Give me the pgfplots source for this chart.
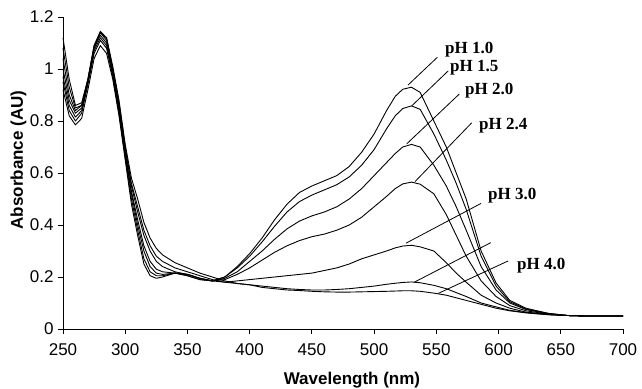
\documentclass[border=0pt]{standalone}
\usepackage{pgfplots}
\usepackage{pgfplotstable}
\pgfplotsset{compat=1.18}
\usepackage{fontspec}
\setmainfont{Liberation Sans}
\newfontfamily\timesfont{Liberation Serif}

\pgfplotstableread{
x    a      b      c      d      e      f      g
250  0.92   0.95   0.97   1.00   1.04   1.08   1.12
255  0.82   0.84   0.86   0.88   0.90   0.93   0.96
260  0.785  0.80   0.815  0.83   0.84   0.85   0.86
265  0.81   0.83   0.84   0.85   0.86   0.86   0.87
270  0.92   0.94   0.95   0.95   0.96   0.96   0.96
275  1.04   1.06   1.07   1.08   1.08   1.09   1.09
280  1.09   1.11   1.12   1.13   1.14   1.145  1.14
285  1.06   1.08   1.09   1.10   1.11   1.12   1.12
290  0.96   0.97   0.98   0.99   1.00   1.00   1.01
295  0.82   0.83   0.84   0.85   0.86   0.87   0.88
300  0.65   0.66   0.67   0.68   0.69   0.70   0.71
305  0.48   0.50   0.52   0.53   0.55   0.56   0.58
310  0.36   0.38   0.40   0.42   0.45   0.47   0.50
315  0.25   0.27   0.30   0.32   0.36   0.38   0.41
320  0.205  0.22   0.24   0.26   0.30   0.32   0.35
325  0.195  0.205  0.215  0.23   0.26   0.28   0.31
330  0.20   0.205  0.21   0.22   0.24   0.26   0.285
340  0.215  0.215  0.215  0.215  0.22   0.235  0.255
350  0.205  0.205  0.21   0.21   0.21   0.22   0.235
360  0.19   0.19   0.195  0.195  0.195  0.205  0.215
370  0.185  0.185  0.185  0.185  0.185  0.19   0.20
380  0.20   0.20   0.195  0.19   0.18   0.18   0.185
390  0.24   0.235  0.22   0.21   0.185  0.175  0.175
400  0.29   0.28   0.26   0.235  0.19   0.17   0.17
410  0.35   0.335  0.30   0.265  0.195  0.165  0.16
420  0.42   0.395  0.345  0.295  0.20   0.16   0.155
430  0.48   0.45   0.385  0.32   0.205  0.155  0.15
440  0.525  0.49   0.415  0.34   0.21   0.152  0.148
450  0.55   0.515  0.435  0.355  0.215  0.15   0.145
460  0.57   0.535  0.45   0.365  0.225  0.15   0.143
470  0.59   0.555  0.47   0.38   0.235  0.152  0.142
480  0.625  0.585  0.50   0.40   0.25   0.155  0.142
490  0.68   0.63   0.54   0.43   0.27   0.16   0.143
500  0.75   0.69   0.59   0.47   0.285  0.165  0.144
510  0.84   0.77   0.64   0.51   0.30   0.172  0.145
517  0.895  0.82   0.675  0.54   0.312  0.176  0.146
523  0.922  0.848  0.70   0.558  0.319  0.179  0.147
530  0.93   0.858  0.71   0.565  0.322  0.181  0.147
537  0.91   0.845  0.70   0.557  0.316  0.178  0.145
548  0.80   0.75   0.63   0.52   0.30   0.168  0.138
558  0.70   0.65   0.55   0.44   0.255  0.155  0.13
566  0.60   0.56   0.47   0.36   0.215  0.14   0.12
574  0.50   0.46   0.38   0.28   0.18   0.125  0.11
586  0.30   0.28   0.24   0.185  0.13   0.10   0.095
598  0.177  0.165  0.15   0.125  0.10   0.085  0.08
609  0.11   0.105  0.10   0.09   0.08   0.072  0.07
622  0.08   0.077  0.075  0.07   0.065  0.063  0.062
640  0.06   0.06   0.058  0.057  0.056  0.055  0.055
655  0.052  0.052  0.052  0.052  0.052  0.052  0.052
670  0.05   0.05   0.05   0.05   0.05   0.05   0.05
700  0.05   0.05   0.05   0.05   0.05   0.05   0.05
}\spectra

\begin{document}
\begin{tikzpicture}
\begin{axis}[
  at={(0,0)}, anchor=south west,
  scale only axis,
  width=560pt, height=312pt,
  xmin=250, xmax=700, ymin=0, ymax=1.2,
  xtick={250,300,...,700},
  ytick={0,0.2,0.4,0.6,0.8,1,1.2},
  axis x line=bottom, axis y line=left,
  axis line style={-, line width=0.9pt},
  tick align=outside,
  major tick length=5pt,
  tick style={line width=0.9pt, black},
  /pgf/number format/assume math mode=true,
  tick label style={font=\fontsize{17}{20}\selectfont},
  xticklabel style={yshift=-6pt},
  yticklabel style={xshift=-1pt},
  xlabel={\bfseries Wavelength (nm)},
  ylabel={\bfseries Absorbance (AU)},
  label style={font=\fontsize{17}{20}\selectfont},
  xlabel style={at={(axis description cs:0.516,-0.163)}, anchor=center},
  ylabel style={at={(axis description cs:-0.0795,0.5417)}, anchor=center},
  clip=false,
  cycle list={{black}},
  every axis plot post/.append style={black, solid, line width=0.9pt, mark=none, line join=round},
]
\addplot table[x=x,y=a] {\spectra};
\addplot table[x=x,y=b] {\spectra};
\addplot table[x=x,y=c] {\spectra};
\addplot table[x=x,y=d] {\spectra};
\addplot table[x=x,y=e] {\spectra};
\addplot table[x=x,y=f] {\spectra};
\addplot table[x=x,y=g] {\spectra};

\draw[line width=0.8pt] (axis cs:527.2,0.938) -- (axis cs:550.8,1.045);
\draw[line width=0.8pt] (axis cs:530.2,0.858) -- (axis cs:559.6,0.993);
\draw[line width=0.8pt] (axis cs:526.2,0.712) -- (axis cs:568.5,0.904);
\draw[line width=0.8pt] (axis cs:532.9,0.567) -- (axis cs:578.4,0.793);
\draw[line width=0.8pt] (axis cs:525.6,0.330) -- (axis cs:585.9,0.483);
\draw[line width=0.8pt] (axis cs:532.3,0.180) -- (axis cs:593.7,0.332);
\draw[line width=0.8pt] (axis cs:551.6,0.137) -- (axis cs:607.8,0.262);

\begin{scope}[every node/.style={anchor=west, inner sep=0pt, font=\timesfont\bfseries\fontsize{17}{20}\selectfont}]
\node at (axis cs:557.0,1.073) {pH 1.0};
\node at (axis cs:561.0,1.004) {pH 1.5};
\node at (axis cs:573.0,0.915) {pH 2.0};
\node at (axis cs:584.3,0.781) {pH 2.4};
\node at (axis cs:591.5,0.512) {pH 3.0};
\node at (axis cs:614.8,0.242) {pH 4.0};
\end{scope}
\end{axis}
\pgfresetboundingbox
\path[use as bounding box] (-63pt,-59pt) rectangle (579pt,329pt);
\end{tikzpicture}
\end{document}
